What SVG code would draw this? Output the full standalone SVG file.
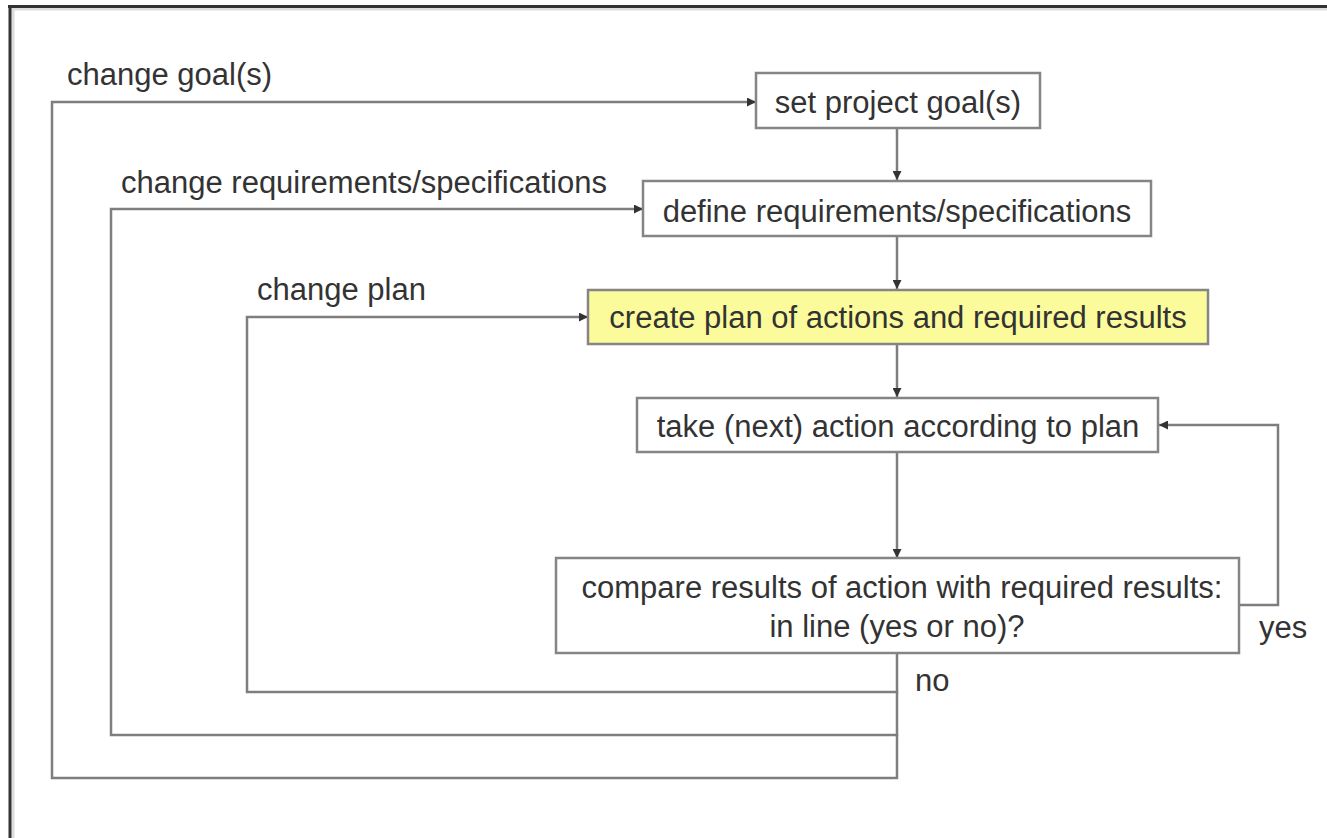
<svg xmlns="http://www.w3.org/2000/svg" width="1327" height="838" viewBox="0 0 1327 838">
<style>
.box{fill:#ffffff;stroke:#858585;stroke-width:2.5}
.hl{fill:#fbfb9c;stroke:#858585;stroke-width:2.5}
.t{font-family:"Liberation Sans",Arial,sans-serif;font-size:31px;fill:#333333}
.c{text-anchor:middle}
.con{fill:none;stroke:#7e7e7e;stroke-width:2.5}
</style>
<defs>
<marker id="arr" viewBox="0 0 10 10" refX="10" refY="5" markerWidth="10" markerHeight="9" markerUnits="userSpaceOnUse" orient="auto">
<path d="M0,0 L10,5 L0,10 z" fill="#333333"/>
</marker>
</defs>
<rect x="0" y="0" width="1327" height="838" fill="#ffffff"/>
<g id="frame">
<line x1="9" y1="9" x2="1327" y2="9" stroke="#dddddd" stroke-width="3"/>
<line x1="13" y1="9" x2="13" y2="838" stroke="#dddddd" stroke-width="3"/>
<line x1="8" y1="6.5" x2="1327" y2="6.5" stroke="#333333" stroke-width="3"/>
<line x1="10" y1="5" x2="10" y2="838" stroke="#333333" stroke-width="3"/>
</g>
<g id="connectors">
<line class="con" x1="897" y1="128" x2="897" y2="180" marker-end="url(#arr)"/>
<line class="con" x1="897" y1="236" x2="897" y2="289" marker-end="url(#arr)"/>
<line class="con" x1="897" y1="344" x2="897" y2="397" marker-end="url(#arr)"/>
<line class="con" x1="897" y1="452" x2="897" y2="558" marker-end="url(#arr)"/>
<path class="con" d="M1239,605 H1278 V425 H1159" marker-end="url(#arr)"/>
<path class="con" d="M897,653 V692 H247 V317 H588" marker-end="url(#arr)"/>
<path class="con" d="M897,692 V735 H111 V209 H643" marker-end="url(#arr)"/>
<path class="con" d="M897,735 V778 H52 V102 H756" marker-end="url(#arr)"/>
</g>
<g id="label-change-goals"><text class="t" x="67" y="85">change goal(s)</text></g>
<g id="label-change-req"><text class="t" x="121" y="193">change requirements/specifications</text></g>
<g id="label-change-plan"><text class="t" x="257" y="300">change plan</text></g>
<g id="label-yes"><text class="t" x="1259" y="638">yes</text></g>
<g id="label-no"><text class="t" x="915" y="691">no</text></g>
<g id="node-set-goals">
<rect class="box" x="756" y="73" width="284" height="55"/>
<text class="t c" x="898" y="113">set project goal(s)</text>
</g>
<g id="node-define-req">
<rect class="box" x="643" y="181" width="508" height="55"/>
<text class="t c" x="897" y="222">define requirements/specifications</text>
</g>
<g id="node-create-plan">
<rect class="hl" x="588" y="290" width="620" height="54"/>
<text class="t c" x="898" y="328">create plan of actions and required results</text>
</g>
<g id="node-take-action">
<rect class="box" x="637" y="398" width="521" height="54"/>
<text class="t c" x="898" y="437">take (next) action according to plan</text>
</g>
<g id="node-compare">
<rect class="box" x="556" y="558" width="683" height="95"/>
<text class="t c" x="902" y="598">compare results of action with required results:</text>
<text class="t c" x="897" y="637">in line (yes or no)?</text>
</g>
</svg>
